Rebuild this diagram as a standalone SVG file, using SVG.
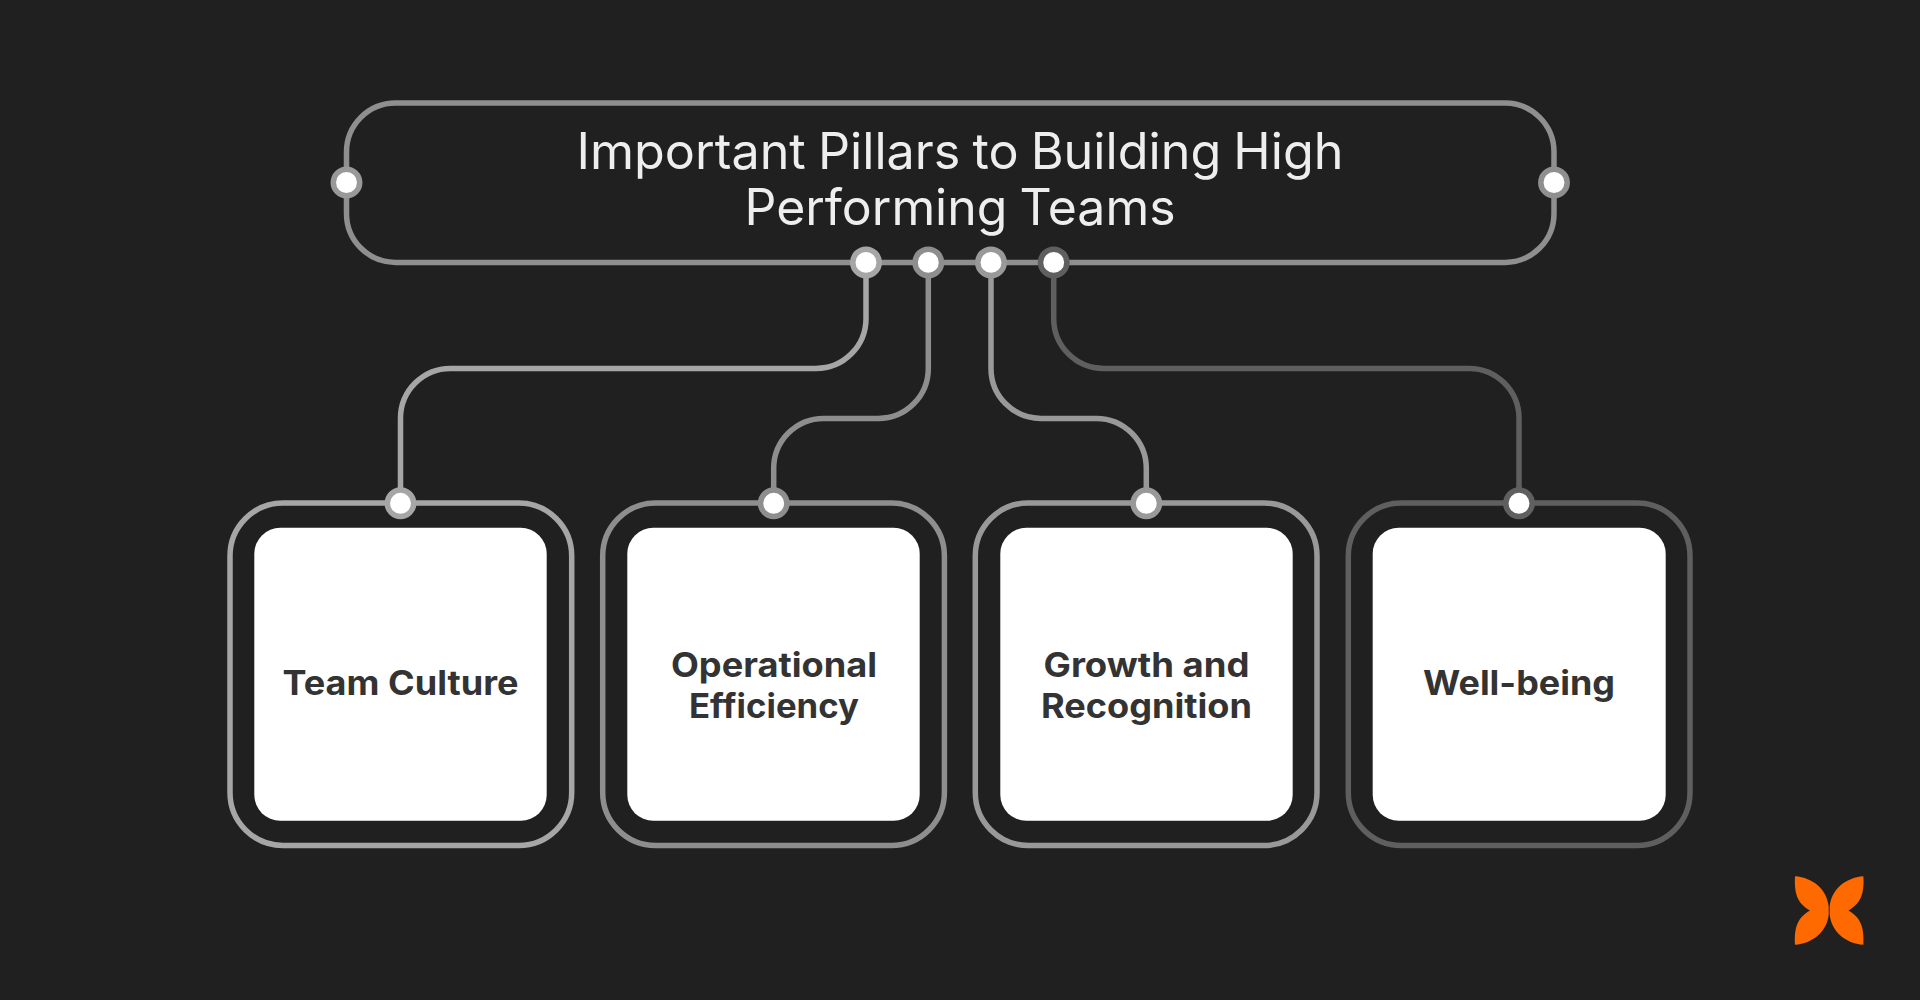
<svg xmlns="http://www.w3.org/2000/svg" width="1920" height="1000" viewBox="0 0 1920 1000">
<style>
.frame{fill:none;stroke-width:5.5}
.conn{fill:none;stroke-width:5.5}
.port{fill:#ffffff;stroke-width:5.5}
.panel{fill:#ffffff}
.title{font-family:"Inter","Liberation Sans",sans-serif;font-weight:400;font-size:50px;word-spacing:-2px;fill:#eeeeee;text-anchor:middle}
.label{font-family:"Inter","Liberation Sans",sans-serif;font-weight:700;font-size:33.5px;fill:#333333;text-anchor:middle}
.c1{stroke:#a6a6a6}.c2{stroke:#8e8e8e}.c3{stroke:#999999}.c4{stroke:#5f5f5f}.c0{stroke:#8f8f8f}
</style>
<rect width="1920" height="1000" fill="#202020"/>
<g id="connectors">
<path class="conn c1" d="M866,262.4 V318.4 A50,50 0 0 1 816,368.4 H450.5 A50,50 0 0 0 400.5,418.4 V503.3"/>
<path class="conn c2" d="M928.3,262.4 V368.4 A50,50 0 0 1 878.3,418.4 H823.7 A50,50 0 0 0 773.7,468.4 V503.3"/>
<path class="conn c3" d="M991,262.4 V368.4 A50,50 0 0 0 1041,418.4 H1096.3 A50,50 0 0 1 1146.3,468.4 V503.3"/>
<path class="conn c4" d="M1053.7,262.4 V318.4 A50,50 0 0 0 1103.7,368.4 H1469 A50,50 0 0 1 1519,418.4 V503.3"/>
</g>
<g id="node-title">
<rect class="frame c0" x="346.5" y="103" width="1207.5" height="159.4" rx="49" ry="49"/>
<text class="title" x="960" y="169.3" textLength="767" lengthAdjust="spacingAndGlyphs">Important Pillars to Building High</text>
<text class="title" x="960" y="225.3" textLength="431" lengthAdjust="spacingAndGlyphs">Performing Teams</text>
<circle class="port c3" cx="346.5" cy="182.5" r="13.2"/>
<circle class="port c0" cx="1554" cy="182.5" r="13.2"/>
<circle class="port c1" cx="866" cy="262.4" r="13.2"/>
<circle class="port c2" cx="928.3" cy="262.4" r="13.2"/>
<circle class="port c3" cx="991" cy="262.4" r="13.2"/>
<circle class="port c4" cx="1053.7" cy="262.4" r="13.2"/>
</g>
<g id="node-team-culture">
<rect class="frame c1" x="230" y="503" width="341.7" height="342.5" rx="53"/>
<rect class="panel" x="254.3" y="527.8" width="292.4" height="293" rx="26"/>
<text class="label" x="400.5" y="694.5" textLength="236" lengthAdjust="spacingAndGlyphs">Team Culture</text>
<circle class="port c1" cx="400.5" cy="503.3" r="13.2"/>
</g>
<g id="node-operational-efficiency">
<rect class="frame c2" x="602.7" y="503" width="341.7" height="342.5" rx="53"/>
<rect class="panel" x="627.3" y="527.8" width="292.4" height="293" rx="26"/>
<text class="label" x="774" y="676.5" textLength="206" lengthAdjust="spacingAndGlyphs">Operational</text>
<text class="label" x="774" y="718" textLength="170" lengthAdjust="spacingAndGlyphs">Efficiency</text>
<circle class="port c2" cx="773.7" cy="503.3" r="13.2"/>
</g>
<g id="node-growth-recognition">
<rect class="frame c3" x="975.3" y="503" width="341.7" height="342.5" rx="53"/>
<rect class="panel" x="1000.3" y="527.8" width="292.4" height="293" rx="26"/>
<text class="label" x="1146.5" y="676.5" textLength="206" lengthAdjust="spacingAndGlyphs">Growth and</text>
<text class="label" x="1146.5" y="718" textLength="211" lengthAdjust="spacingAndGlyphs">Recognition</text>
<circle class="port c3" cx="1146.3" cy="503.3" r="13.2"/>
</g>
<g id="node-well-being">
<rect class="frame c4" x="1348.3" y="503" width="341.7" height="342.5" rx="53"/>
<rect class="panel" x="1372.7" y="527.8" width="293" height="293" rx="26"/>
<text class="label" x="1519" y="694.5" textLength="192" lengthAdjust="spacingAndGlyphs">Well-being</text>
<circle class="port c4" cx="1519" cy="503.3" r="13.2"/>
</g>
<g id="logo" fill="#ff6a00">
<path d="M1795,876.2 C1813,877.5 1827,889.5 1828.7,906.5 L1828.7,914.5 C1827,931.5 1813,943.5 1795,944.8 C1794,926.5 1798,917.5 1810,910.5 C1798,903.5 1794,894.5 1795,876.2Z"/>
<path d="M1863.4,876.2 C1845.4,877.5 1831.4,889.5 1829.7,906.5 L1829.7,914.5 C1831.4,931.5 1845.4,943.5 1863.4,944.8 C1864.4,926.5 1860.4,917.5 1848.4,910.5 C1860.4,903.5 1864.4,894.5 1863.4,876.2Z"/>
</g>
</svg>
